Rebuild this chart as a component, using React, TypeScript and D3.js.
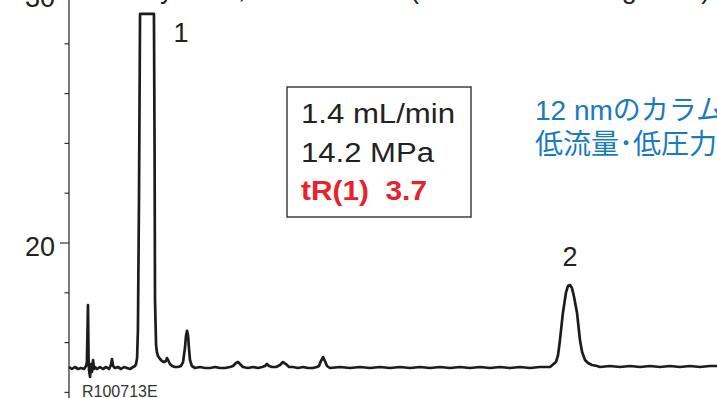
import React from 'react';
import * as d3 from 'd3';

// Chromatogram trace: [retention time (min), signal (mAU)]
const trace: [number, number][] = [
  [0.00, 15.02], [0.14, 14.94], [0.28, 15.02], [0.43, 14.94], [0.57, 14.98], [0.71, 14.94],
  [0.81, 15.06], [0.85, 15.22], [0.90, 17.51], [0.93, 15.30], [0.95, 14.90], [1.00, 14.62],
  [1.04, 15.14], [1.09, 14.82], [1.14, 15.30], [1.19, 14.94], [1.23, 15.02], [1.33, 14.94],
  [1.47, 15.02], [1.61, 14.94], [1.76, 15.02], [1.90, 14.94], [1.99, 15.10], [2.04, 15.34],
  [2.09, 15.06], [2.18, 14.98], [2.32, 15.02], [2.47, 14.94], [2.61, 15.02], [2.75, 14.98],
  [2.89, 14.94], [3.04, 15.02], [3.13, 15.06], [3.18, 15.14], [3.23, 15.38], [3.27, 16.51],
  [3.32, 21.73], [3.37, 29.20], [3.70, 29.20], [4.03, 29.20], [4.06, 23.73], [4.08, 17.71],
  [4.13, 15.90], [4.17, 15.62], [4.22, 15.46], [4.32, 15.34], [4.41, 15.26], [4.51, 15.22],
  [4.60, 15.26], [4.65, 15.38], [4.70, 15.30], [4.79, 15.14], [4.89, 15.06], [5.03, 15.02],
  [5.17, 15.02], [5.31, 15.06], [5.41, 15.22], [5.50, 15.78], [5.55, 16.27], [5.60, 16.47],
  [5.65, 16.27], [5.69, 15.78], [5.74, 15.30], [5.83, 15.06], [5.98, 14.98], [6.21, 15.02],
  [6.45, 14.98], [6.69, 14.98], [6.93, 15.02], [7.16, 14.98], [7.40, 14.98], [7.64, 15.02],
  [7.78, 15.06], [7.92, 15.18], [8.02, 15.22], [8.11, 15.14], [8.25, 15.02], [8.49, 14.98],
  [8.73, 15.02], [8.97, 14.98], [9.16, 15.02], [9.30, 15.06], [9.39, 15.14], [9.49, 15.06],
  [9.63, 15.02], [9.82, 15.02], [10.01, 15.10], [10.15, 15.22], [10.29, 15.14], [10.44, 15.02],
  [10.63, 15.02], [10.86, 14.98], [11.10, 15.02], [11.34, 14.98], [11.57, 14.98], [11.76, 15.02],
  [11.86, 15.06], [11.95, 15.26], [12.05, 15.42], [12.14, 15.26], [12.24, 15.06], [12.38, 14.98],
  [12.86, 15.02], [13.33, 14.98], [13.80, 15.02], [14.28, 14.98], [14.75, 15.02], [15.23, 14.98],
  [15.70, 15.02], [16.18, 14.98], [16.65, 15.02], [17.13, 14.98], [17.60, 15.02], [18.07, 14.98],
  [18.55, 15.02], [19.02, 14.98], [19.50, 15.02], [19.97, 14.98], [20.45, 15.02], [20.92, 14.98],
  [21.39, 15.02], [21.87, 14.98], [22.34, 15.02], [22.82, 15.02], [23.10, 15.22], [23.20, 15.50],
  [23.29, 16.10], [23.43, 17.19], [23.58, 18.03], [23.67, 18.27], [23.77, 18.31], [23.86, 18.19],
  [23.96, 17.83], [24.10, 17.19], [24.24, 16.10], [24.34, 15.62], [24.48, 15.30], [24.62, 15.18],
  [24.81, 15.10], [25.05, 15.06], [25.19, 15.02], [25.66, 15.06], [26.14, 15.02], [26.61, 15.06],
  [27.09, 15.02], [27.56, 15.06], [28.04, 15.02], [28.51, 15.06], [28.98, 15.02], [29.46, 15.06],
  [29.93, 15.02], [30.41, 15.06], [30.74, 15.06],
];

const yTicks = [14, 16, 18, 20, 22, 24, 26, 28, 30];
const yLabels = [20, 30];
const peakNames = ['1', '2'];
const peakTimes = [3.70, 23.77];
const peakHeights = [29.20, 18.31];
const conditions = ['1.4 mL/min', '14.2 MPa'];
const retention = 'tR(1)  3.7';
const notes = ['12 nmのカラムと比較して', '低流量･低圧力で分析可能'];
const title = 'Assay tests, Column Test (Low Flow Loading tests)';
const sampleId = 'R100713E';

const W = 717;
const H = 398;

export default function App() {
  const x = d3.scaleLinear().domain([0, 31]).range([69, 69 + 31 * 21.08]);
  const y = d3.scaleLinear().domain([14, 30]).range([392.4, -6]);
  const line = d3
    .line<[number, number]>()
    .x((d) => x(d[0]))
    .y((d) => y(d[1]));

  const font = '"Liberation Sans", Arial, Helvetica, sans-serif';
  const lengths = [154, 133];

  return (
    <svg
      width={W}
      height={H}
      style={{ position: 'absolute', left: 0, top: 0, display: 'block', background: '#fff' }}
      fontFamily={font}
    >
      <rect x={0} y={0} width={W} height={H} fill="#fff" />
      {/* title (cropped at top) */}
      <text x={100} y={-2} fontSize={27} fill="#222">
        {title}
      </text>

      {/* y axis */}
      <line x1={69} x2={69} y1={0} y2={H} stroke="#333" strokeWidth={1.3} />
      {yTicks.map((v) => {
        const major = yLabels.includes(v);
        return (
          <line
            key={v}
            x1={major ? 60 : 64.5}
            x2={69}
            y1={y(v)}
            y2={y(v)}
            stroke="#333"
            strokeWidth={1.2}
          />
        );
      })}
      {yLabels.map((v) => (
        <text key={v} x={55} y={y(v) + 13} fontSize={27} textAnchor="end" fill="#222">
          {v}
        </text>
      ))}

      {/* trace */}
      <path
        d={line(trace) || ''}
        fill="none"
        stroke="#1c1c1c"
        strokeWidth={2.7}
        strokeLinejoin="round"
      />

      {/* peak labels */}
      {peakNames.map((n, i) => (
        <text
          key={n}
          x={x(peakTimes[i]) + (i === 0 ? 34 : 0)}
          y={y(peakHeights[i]) + (i === 0 ? 28 : -19)}
          fontSize={27}
          textAnchor="middle"
          fill="#222"
        >
          {n}
        </text>
      ))}

      {/* condition box */}
      <rect x={287} y={87} width={184} height={130} fill="#fff" stroke="#222" strokeWidth={1.3} />
      {conditions.map((c, i) => (
        <text
          key={c}
          x={301}
          y={123 + i * 39}
          fontSize={27}
          fill="#222"
          textLength={lengths[i]}
          lengthAdjust="spacingAndGlyphs"
        >
          {c}
        </text>
      ))}
      <text
        x={301}
        y={200}
        fontSize={27}
        fontWeight="bold"
        fill="#e8212b"
        textLength={126}
        lengthAdjust="spacingAndGlyphs"
        style={{ whiteSpace: 'pre' }}
      >
        {retention}
      </text>

      {/* blue notes */}
      {notes.map((n, i) => (
        <text
          key={n}
          x={535}
          y={120 + i * 34}
          fontSize={28}
          fill="#1a7ac0"
          fontFamily={'"Liberation Sans", "Noto Sans CJK JP", sans-serif'}
        >
          {n}
        </text>
      ))}

      {/* sample id */}
      <text x={82} y={397} fontSize={16} fill="#333">
        {sampleId}
      </text>
    </svg>
  );
}
